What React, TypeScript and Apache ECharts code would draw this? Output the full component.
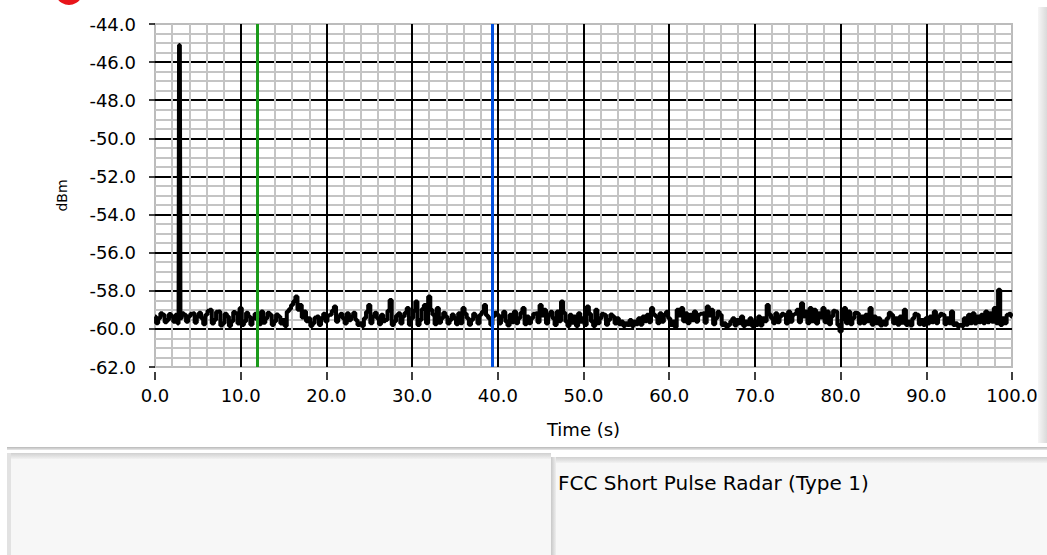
import React, { useEffect, useRef } from "react";
import * as echarts from "echarts";

// ---- data ----
const sampleStep = 0.5; // seconds between main samples
// samples at t = 0, 0.5, 1.0 ... 100
const traceValues: number[] = [
  -59.35, -59.44, -59.26, -59.53, -59.35, -59.26, -59.44, -59.26, -59.35, -59.18,
  -59.35, -59.44, -59.26, -59.0, -59.53, -59.09, -59.7, -59.35, -59.61, -59.18,
  -58.91, -59.61, -59.35, -59.44, -59.53, -59.09, -59.44, -59.26, -59.61, -59.35,
  -59.53, -59.09, -58.74, -58.3, -58.74, -59.09, -59.44, -59.7, -59.35, -59.44,
  -59.61, -59.26, -58.83, -59.35, -59.44, -59.18, -59.35, -59.53, -59.7, -59.44,
  -58.74, -59.35, -59.44, -59.26, -59.53, -58.48, -59.61, -59.18, -59.35, -58.91,
  -59.44, -58.56, -59.53, -58.74, -58.3, -59.26, -58.91, -59.44, -59.35, -59.53,
  -59.44, -59.18, -58.91, -59.44, -59.53, -59.35, -59.26, -58.74, -59.44, -59.35,
  -59.26, -59.35, -59.61, -59.26, -59.09, -59.44, -58.91, -59.35, -59.44, -59.18,
  -58.74, -59.0, -59.26, -59.44, -59.09, -58.56, -59.61, -59.26, -59.35, -59.18,
  -59.44, -58.83, -59.61, -59.0, -59.44, -59.26, -59.53, -59.35, -59.44, -59.61,
  -59.7, -59.53, -59.61, -59.44, -59.35, -59.26, -58.91, -59.35, -59.18, -59.26,
  -59.44, -59.61, -59.0, -58.91, -59.18, -59.26, -59.09, -59.26, -59.18, -58.83,
  -59.0, -59.44, -59.26, -59.7, -59.79, -59.44, -59.53, -59.35, -59.61, -59.44,
  -59.61, -59.35, -59.44, -58.74, -59.44, -59.18, -59.35, -59.26, -59.09, -59.26,
  -59.0, -58.65, -59.09, -58.91, -59.0, -59.18, -58.91, -59.09, -59.35, -59.09,
  -60.14, -58.91, -59.09, -59.44, -59.18, -59.35, -59.26, -58.91, -59.35, -59.44,
  -59.61, -59.44, -59.26, -59.44, -59.35, -59.0, -59.61, -59.44, -59.26, -59.53,
  -59.44, -59.35, -59.09, -59.35, -59.26, -59.44, -59.09, -59.7, -59.79, -59.44,
  -59.26, -59.18, -59.35, -59.26, -59.09, -59.18, -58.91, -57.95, -59.44, -59.26,
  -59.35,
];
// in-between samples at t = 0.25, 0.75 ... 99.75
const traceMidValues: number[] = [
  -59.7, -59.18, -59.65, -59.22, -59.62, -59.72, -59.18, -59.62, -59.2, -59.68,
  -59.15, -59.75, -59.05, -59.72, -59.1, -59.82, -59.2, -59.85, -59.12, -59.72,
  -59.8, -59.15, -59.78, -59.2, -59.75, -59.68, -59.15, -59.8, -59.25, -59.72,
  -59.85, -58.95, -58.55, -59.0, -59.4, -59.6, -59.85, -59.4, -59.8, -59.2,
  -59.3, -59.05, -59.62, -59.2, -59.72, -59.55, -59.15, -59.8, -59.85, -59.1,
  -59.7, -59.15, -59.75, -59.6, -59.05, -59.8, -59.3, -59.72, -59.15, -59.78,
  -59.05, -59.8, -58.95, -59.7, -59.0, -59.75, -59.68, -59.15, -59.72, -59.25,
  -59.75, -59.7, -59.2, -59.78, -59.2, -59.72, -59.1, -59.3, -59.78, -59.15,
  -59.72, -59.1, -59.82, -59.65, -59.7, -59.15, -59.75, -59.7, -59.2, -59.65,
  -59.3, -59.72, -59.1, -59.8, -59.6, -59.15, -59.85, -59.68, -59.85, -59.62,
  -59.8, -59.2, -59.85, -59.7, -59.2, -59.78, -59.25, -59.72, -59.75, -59.85,
  -59.8, -59.85, -59.75, -59.78, -59.6, -59.65, -59.25, -59.7, -59.62, -59.1,
  -59.8, -59.9, -59.3, -59.6, -59.7, -59.55, -59.62, -59.2, -59.68, -59.3,
  -59.75, -59.1, -59.8, -59.9, -59.6, -59.82, -59.7, -59.85, -59.75, -59.85,
  -59.8, -59.82, -59.6, -59.25, -59.7, -59.65, -59.2, -59.72, -59.62, -59.2,
  -59.65, -59.35, -59.7, -59.6, -59.72, -59.4, -59.65, -59.75, -59.05, -59.8,
  -59.5, -59.7, -59.75, -59.15, -59.72, -59.7, -59.6, -59.78, -59.7, -59.82,
  -59.78, -59.15, -59.7, -59.78, -59.68, -59.8, -59.82, -59.2, -59.75, -59.8,
  -59.72, -59.65, -59.7, -59.2, -59.75, -59.7, -59.8, -59.88, -59.85, -59.78,
  -59.7, -59.72, -59.65, -59.7, -59.65, -59.62, -59.7, -59.8, -59.7, -59.2,
];
const spikeTimes = [2.86, 2.94];
const spikeValues = [-45.1, -45.1];
const cursorTimes = [11.9, 39.4];
const cursorColors = ["#1a9a1a", "#0050e0"];
const yMin = -62;
const yMax = -44;
const yStep = 2;
const xMin = 0;
const xMax = 100;
const xStep = 10;
const panelText = "FCC Short Pulse Radar (Type 1)";

export default function App() {
  const ref = useRef<HTMLDivElement>(null);
  useEffect(() => {
    if (!ref.current) return;
    const chart = echarts.init(ref.current, undefined, { renderer: "svg" });

    const points: [number, number][] = [];
    traceValues.forEach((v, i) => points.push([i * sampleStep, v]));
    traceMidValues.forEach((v, i) => points.push([i * sampleStep + sampleStep / 2, v]));
    spikeTimes.forEach((t, i) => points.push([t, spikeValues[i]]));
    points.sort((a, b) => a[0] - b[0]);

    const font = "DejaVu Sans";
    const grad = (x2: number, y2: number, c1: string, c2: string) =>
      new echarts.graphic.LinearGradient(0, 0, x2, y2, [
        { offset: 0, color: c1 },
        { offset: 1, color: c2 },
      ]);
    chart.setOption({
      animation: false,
      backgroundColor: "#ffffff",
      grid: {
        left: 155,
        right: 35,
        top: 24,
        bottom: 188,
        show: true,
        borderColor: "#bcbcbc",
        borderWidth: 2,
        backgroundColor: "#ffffff",
      },
      xAxis: {
        type: "value",
        min: xMin,
        max: xMax,
        interval: xStep,
        offset: 5,
        name: "Time (s)",
        nameLocation: "middle",
        nameGap: 48,
        nameTextStyle: { fontFamily: font, fontSize: 18, color: "#000" },
        axisLine: { show: false },
        axisTick: { show: true, length: 8, lineStyle: { color: "#000", width: 1.5 } },
        axisLabel: {
          fontFamily: font,
          fontSize: 18,
          color: "#000",
          margin: 14,
          formatter: (v: number) => v.toFixed(1),
        },
        splitLine: {
          show: true,
          showMinLine: false,
          showMaxLine: false,
          lineStyle: { color: "#000", width: 2 },
        },
        minorTick: { show: false, splitNumber: 5 },
        minorSplitLine: { show: true, lineStyle: { color: "#c4c4c4", width: 2 } },
      },
      yAxis: {
        type: "value",
        min: yMin,
        max: yMax,
        interval: yStep,
        offset: 6,
        name: "dBm",
        nameLocation: "middle",
        nameRotate: 90,
        nameGap: 80,
        nameTextStyle: { fontFamily: font, fontSize: 14, color: "#000" },
        axisLine: { show: false },
        axisTick: { show: true, length: 6, lineStyle: { color: "#000", width: 1.5 } },
        axisLabel: {
          fontFamily: font,
          fontSize: 18,
          color: "#000",
          margin: 13,
          formatter: (v: number) => v.toFixed(1),
        },
        splitLine: {
          show: true,
          showMinLine: false,
          showMaxLine: false,
          lineStyle: { color: "#000", width: 2 },
        },
        minorTick: { show: false, splitNumber: 4 },
        minorSplitLine: { show: true, lineStyle: { color: "#c4c4c4", width: 2 } },
      },
      series: [
        {
          type: "line",
          data: points,
          step: "middle",
          showSymbol: false,
          symbol: "none",
          lineStyle: { color: "#000", width: 4 },
          z: 3,
        },
        {
          type: "line",
          data: [],
          z: 5,
          markLine: {
            silent: true,
            symbol: ["none", "none"],
            label: { show: false },
            data: cursorTimes.map((t, i) => ({
              xAxis: t,
              lineStyle: { color: cursorColors[i], width: 3, type: "solid" },
            })),
          },
        },
      ],
      graphic: [
        { type: "circle", shape: { cx: 69, cy: -9, r: 14 }, style: { fill: "#e8141a" } },
        {
          type: "rect",
          shape: { x: 1038, y: 7, width: 9, height: 436 },
          style: { fill: grad(1, 0, "#f6f6f6", "#dadada") },
        },
        {
          type: "rect",
          shape: { x: 7, y: 447, width: 1040, height: 3 },
          style: { fill: grad(0, 1, "#b8b8b8", "#e8e8e8") },
        },
        { type: "rect", shape: { x: 7, y: 453, width: 544, height: 102 }, style: { fill: "#f7f7f7" } },
        {
          type: "rect",
          shape: { x: 7, y: 453, width: 544, height: 6 },
          style: { fill: grad(0, 1, "#d0d0d0", "#f2f2f2") },
        },
        { type: "rect", shape: { x: 7, y: 453, width: 4, height: 102 }, style: { fill: "#e2e2e2" } },
        { type: "rect", shape: { x: 553, y: 457, width: 494, height: 98 }, style: { fill: "#f7f7f7" } },
        {
          type: "rect",
          shape: { x: 553, y: 457, width: 494, height: 6 },
          style: { fill: grad(0, 1, "#d0d0d0", "#f2f2f2") },
        },
        {
          type: "rect",
          shape: { x: 551, y: 457, width: 5, height: 98 },
          style: { fill: grad(1, 0, "#c8c8c8", "#eeeeee") },
        },
        {
          type: "text",
          x: 558,
          y: 483,
          style: {
            text: panelText,
            fill: "#000",
            font: "20px 'DejaVu Sans'",
            textVerticalAlign: "middle",
          },
        },
      ],
    });
    return () => chart.dispose();
  }, []);
  return (
    <div
      ref={ref}
      style={{ position: "absolute", left: 0, top: 0, width: 1047, height: 555, background: "#fff" }}
    />
  );
}
